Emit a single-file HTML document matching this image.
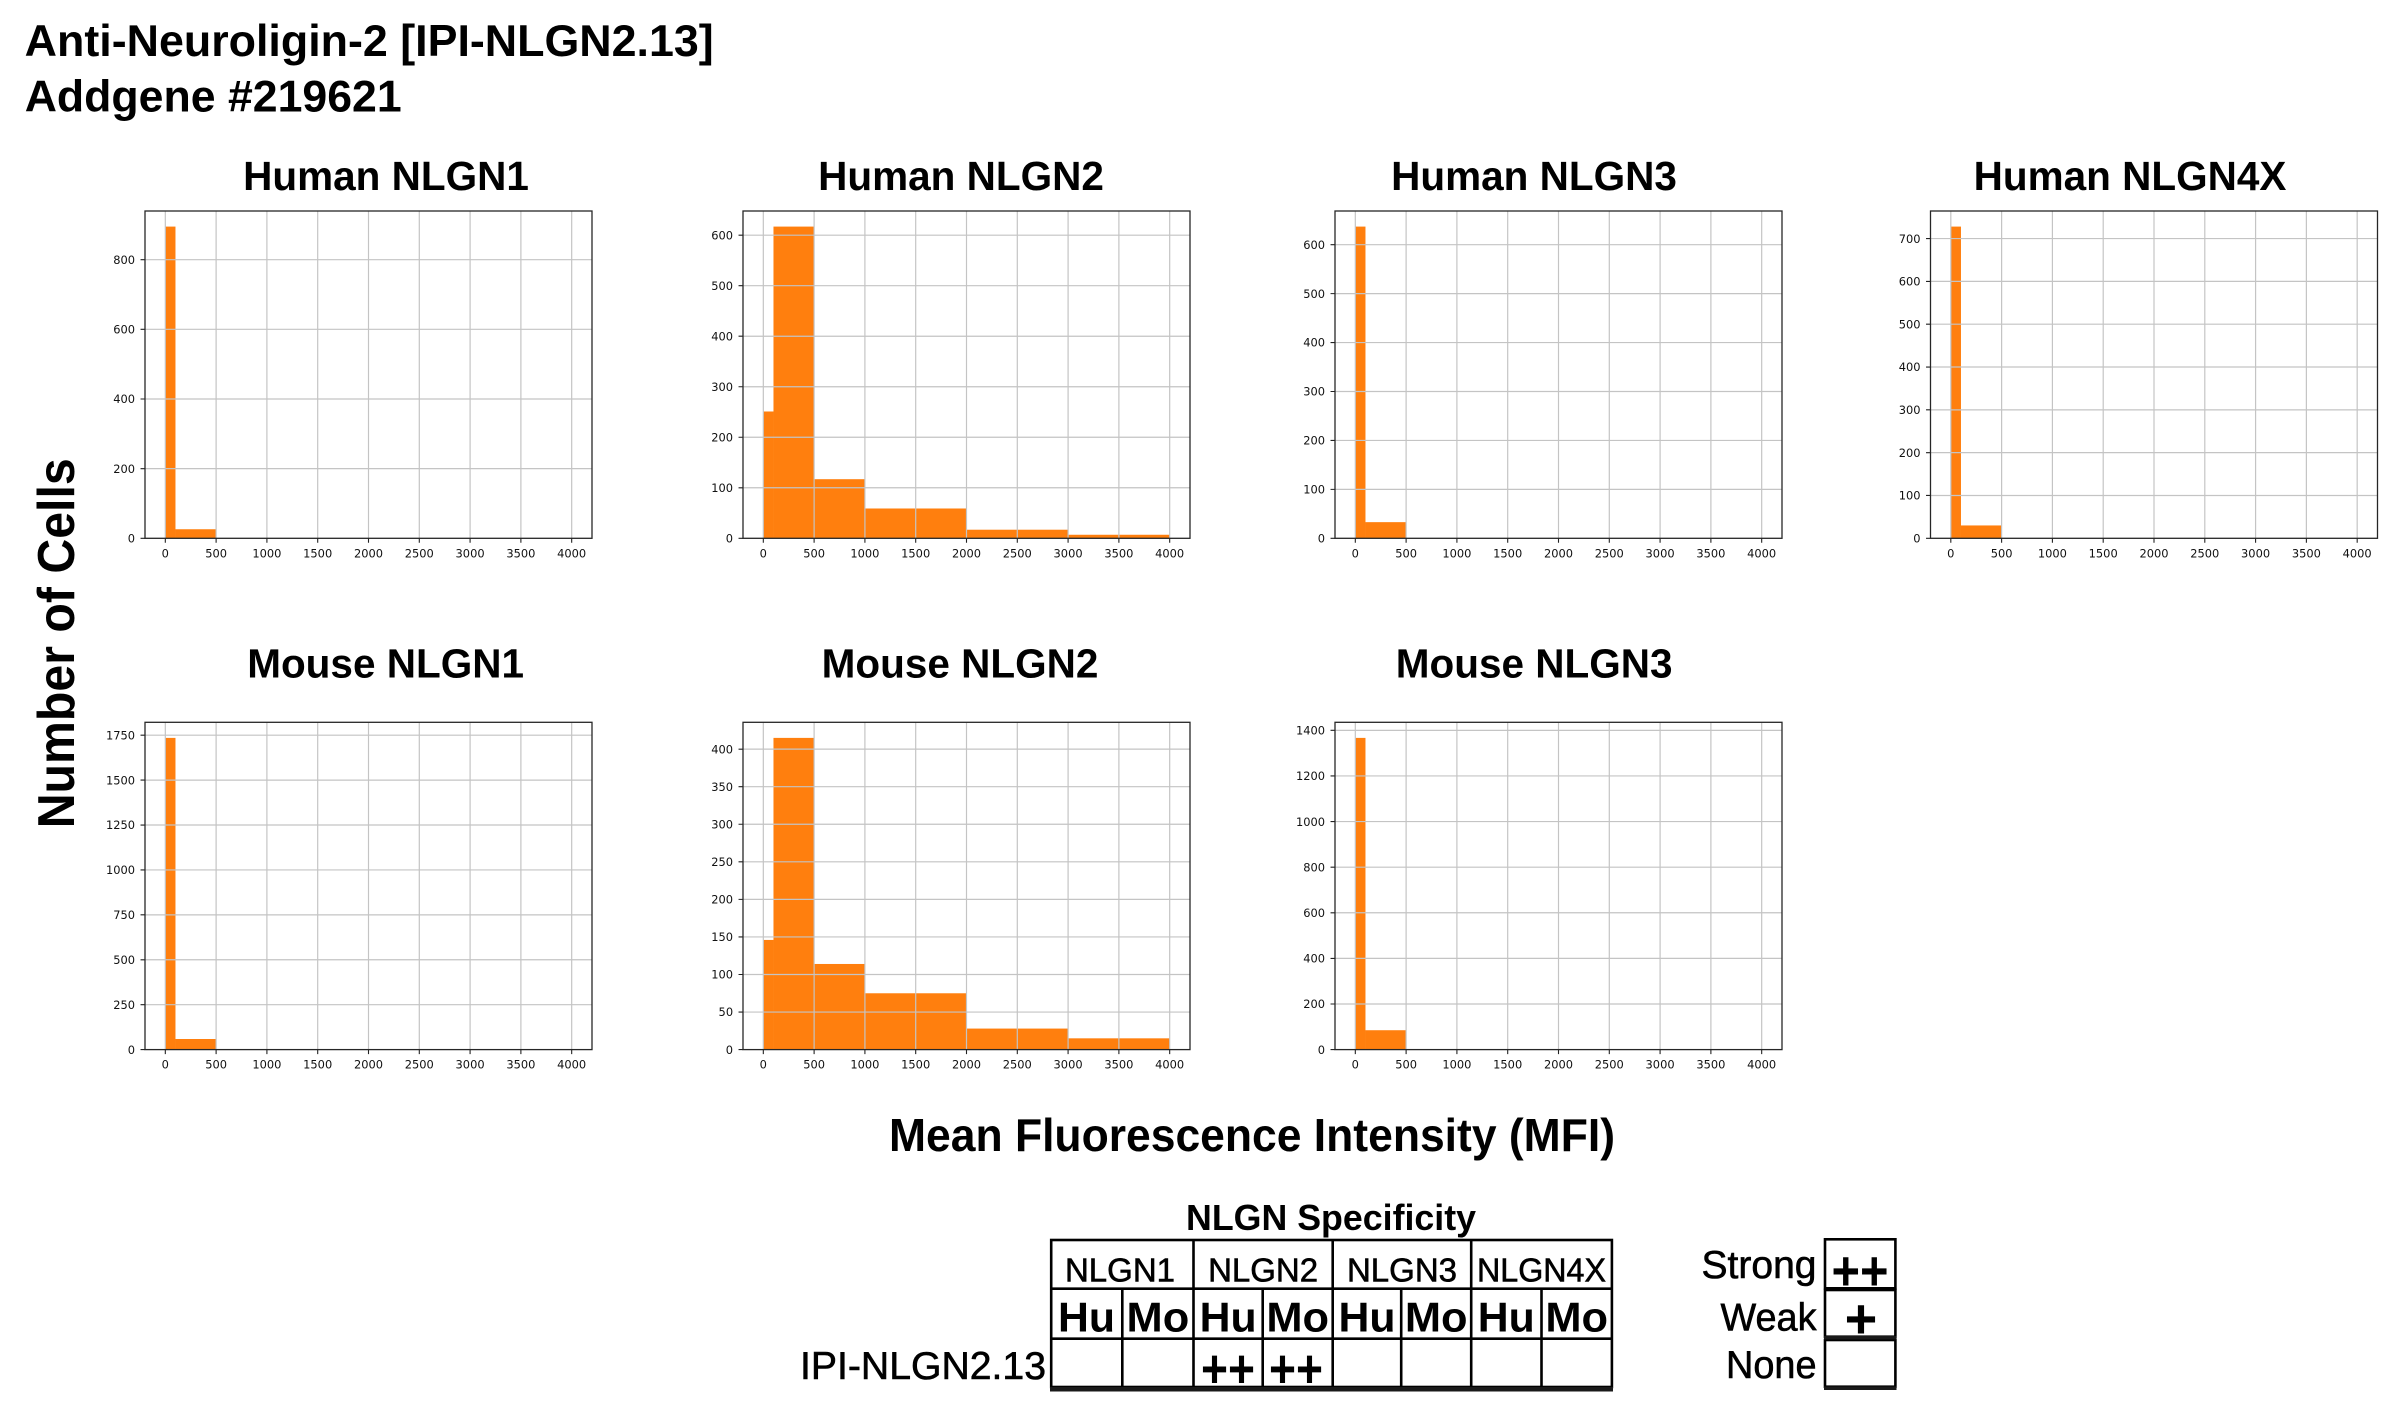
<!DOCTYPE html>
<html>
<head>
<meta charset="utf-8">
<style>
html,body{margin:0;padding:0;background:#fff;}
svg{display:block;}
.t{font-family:"DejaVu Sans","Liberation Sans",sans-serif;font-size:11.5px;fill:#111;}
.ty{text-anchor:end;}
.tx{text-anchor:middle;}
.g{stroke:#c4c4c4;stroke-width:1.2;fill:none;}
.k{stroke:#222;stroke-width:1.1;fill:none;}
.sp{stroke:#262626;stroke-width:1.3;fill:none;}
.bar{fill:#ff7f0e;}
.ttl{font-family:"Liberation Sans",Arial,sans-serif;font-weight:bold;font-size:40.5px;fill:#000;text-anchor:middle;}
.hd{font-family:"Liberation Sans",Arial,sans-serif;fill:#000;}
.md{stroke:#000;stroke-width:0.6;}
.tb{stroke:#000;stroke-width:2.6;fill:none;}
</style>
</head>
<body>
<svg width="2407" height="1418" viewBox="0 0 2407 1418" xmlns="http://www.w3.org/2000/svg">
<rect x="0" y="0" width="2407" height="1418" fill="#fff"/>

<!-- Main title -->
<text class="hd" x="24.7" y="55.8" font-size="44.7" font-weight="bold" textLength="689" lengthAdjust="spacingAndGlyphs">Anti-Neuroligin-2 [IPI-NLGN2.13]</text>
<text class="hd" x="24.7" y="111.5" font-size="44.7" font-weight="bold" textLength="377" lengthAdjust="spacingAndGlyphs">Addgene #219621</text>

<!-- Y label -->
<text class="hd" transform="translate(74,643.3) rotate(-90)" text-anchor="middle" font-size="52" font-weight="bold" textLength="370" lengthAdjust="spacingAndGlyphs">Number of Cells</text>

<!-- X label -->
<text class="hd" x="1252" y="1151" text-anchor="middle" font-size="46" font-weight="bold" textLength="726" lengthAdjust="spacingAndGlyphs">Mean Fluorescence Intensity (MFI)</text>

<!-- Subplot titles -->
<text class="ttl" x="386" y="190">Human NLGN1</text>
<text class="ttl" x="961" y="190">Human NLGN2</text>
<text class="ttl" x="1534" y="190">Human NLGN3</text>
<text class="ttl" x="2130" y="190">Human NLGN4X</text>
<text class="ttl" x="385.6" y="677.3">Mouse NLGN1</text>
<text class="ttl" x="960" y="677.3">Mouse NLGN2</text>
<text class="ttl" x="1534.2" y="677.3">Mouse NLGN3</text>

<!-- ========== Chart 1: Human NLGN1 ========== -->
<g transform="translate(145,211) scale(0.99333,1)">
<rect class="bar" x="20.45" y="15.59" width="10.23" height="311.71"/>
<rect class="bar" x="30.68" y="318.24" width="40.91" height="9.06"/>
<path class="g" d="M20.45 0V327.3M71.59 0V327.3M122.73 0V327.3M173.86 0V327.3M225 0V327.3M276.14 0V327.3M327.27 0V327.3M378.41 0V327.3M429.55 0V327.3"/>
<path class="g" d="M0 257.64H450M0 187.99H450M0 118.33H450M0 48.68H450"/>
<path class="k" d="M20.45 327.3v4.5M71.59 327.3v4.5M122.73 327.3v4.5M173.86 327.3v4.5M225 327.3v4.5M276.14 327.3v4.5M327.27 327.3v4.5M378.41 327.3v4.5M429.55 327.3v4.5"/>
<path class="k" d="M0 327.3h-4.5M0 257.64h-4.5M0 187.99h-4.5M0 118.33h-4.5M0 48.68h-4.5"/>
<rect class="sp" x="0" y="0" width="450" height="327.3"/>
<g class="t ty">
<text x="-10" y="331.5">0</text><text x="-10" y="261.84">200</text><text x="-10" y="192.19">400</text><text x="-10" y="122.53">600</text><text x="-10" y="52.88">800</text>
</g>
<g class="t tx">
<text x="20.45" y="346.3">0</text><text x="71.59" y="346.3">500</text><text x="122.73" y="346.3">1000</text><text x="173.86" y="346.3">1500</text><text x="225" y="346.3">2000</text><text x="276.14" y="346.3">2500</text><text x="327.27" y="346.3">3000</text><text x="378.41" y="346.3">3500</text><text x="429.55" y="346.3">4000</text>
</g>
</g>

<!-- ========== Chart 2: Human NLGN2 ========== -->
<g transform="translate(743,211) scale(0.99333,1)">
<rect class="bar" x="20.45" y="200.49" width="10.23" height="126.81"/>
<rect class="bar" x="30.68" y="15.59" width="40.91" height="311.71"/>
<rect class="bar" x="71.59" y="268.19" width="51.14" height="59.11"/>
<rect class="bar" x="122.73" y="297.49" width="102.27" height="29.81"/>
<rect class="bar" x="225" y="318.71" width="102.27" height="8.59"/>
<rect class="bar" x="327.27" y="323.76" width="102.28" height="3.54"/>
<path class="g" d="M20.45 0V327.3M71.59 0V327.3M122.73 0V327.3M173.86 0V327.3M225 0V327.3M276.14 0V327.3M327.27 0V327.3M378.41 0V327.3M429.55 0V327.3"/>
<path class="g" d="M0 276.78H450M0 226.26H450M0 175.74H450M0 125.22H450M0 74.70H450M0 24.17H450"/>
<path class="k" d="M20.45 327.3v4.5M71.59 327.3v4.5M122.73 327.3v4.5M173.86 327.3v4.5M225 327.3v4.5M276.14 327.3v4.5M327.27 327.3v4.5M378.41 327.3v4.5M429.55 327.3v4.5"/>
<path class="k" d="M0 327.3h-4.5M0 276.78h-4.5M0 226.26h-4.5M0 175.74h-4.5M0 125.22h-4.5M0 74.70h-4.5M0 24.17h-4.5"/>
<rect class="sp" x="0" y="0" width="450" height="327.3"/>
<g class="t ty">
<text x="-10" y="331.5">0</text><text x="-10" y="280.98">100</text><text x="-10" y="230.46">200</text><text x="-10" y="179.94">300</text><text x="-10" y="129.42">400</text><text x="-10" y="78.9">500</text><text x="-10" y="28.37">600</text>
</g>
<g class="t tx">
<text x="20.45" y="346.3">0</text><text x="71.59" y="346.3">500</text><text x="122.73" y="346.3">1000</text><text x="173.86" y="346.3">1500</text><text x="225" y="346.3">2000</text><text x="276.14" y="346.3">2500</text><text x="327.27" y="346.3">3000</text><text x="378.41" y="346.3">3500</text><text x="429.55" y="346.3">4000</text>
</g>
</g>

<!-- ========== Chart 3: Human NLGN3 ========== -->
<g transform="translate(1335,211) scale(0.99333,1)">
<rect class="bar" x="20.45" y="15.59" width="10.23" height="311.71"/>
<rect class="bar" x="30.68" y="311.15" width="40.91" height="16.15"/>
<path class="g" d="M20.45 0V327.3M71.59 0V327.3M122.73 0V327.3M173.86 0V327.3M225 0V327.3M276.14 0V327.3M327.27 0V327.3M378.41 0V327.3M429.55 0V327.3"/>
<path class="g" d="M0 278.37H450M0 229.43H450M0 180.5H450M0 131.56H450M0 82.63H450M0 33.69H450"/>
<path class="k" d="M20.45 327.3v4.5M71.59 327.3v4.5M122.73 327.3v4.5M173.86 327.3v4.5M225 327.3v4.5M276.14 327.3v4.5M327.27 327.3v4.5M378.41 327.3v4.5M429.55 327.3v4.5"/>
<path class="k" d="M0 327.3h-4.5M0 278.37h-4.5M0 229.43h-4.5M0 180.5h-4.5M0 131.56h-4.5M0 82.63h-4.5M0 33.69h-4.5"/>
<rect class="sp" x="0" y="0" width="450" height="327.3"/>
<g class="t ty">
<text x="-10" y="331.5">0</text><text x="-10" y="282.57">100</text><text x="-10" y="233.63">200</text><text x="-10" y="184.7">300</text><text x="-10" y="135.76">400</text><text x="-10" y="86.83">500</text><text x="-10" y="37.89">600</text>
</g>
<g class="t tx">
<text x="20.45" y="346.3">0</text><text x="71.59" y="346.3">500</text><text x="122.73" y="346.3">1000</text><text x="173.86" y="346.3">1500</text><text x="225" y="346.3">2000</text><text x="276.14" y="346.3">2500</text><text x="327.27" y="346.3">3000</text><text x="378.41" y="346.3">3500</text><text x="429.55" y="346.3">4000</text>
</g>
</g>

<!-- ========== Chart 4: Human NLGN4X ========== -->
<g transform="translate(1930.5,211) scale(0.99333,1)">
<rect class="bar" x="20.45" y="15.59" width="10.23" height="311.71"/>
<rect class="bar" x="30.68" y="314.45" width="40.91" height="12.85"/>
<path class="g" d="M20.45 0V327.3M71.59 0V327.3M122.73 0V327.3M173.86 0V327.3M225 0V327.3M276.14 0V327.3M327.27 0V327.3M378.41 0V327.3M429.55 0V327.3"/>
<path class="g" d="M0 284.48H450M0 241.66H450M0 198.85H450M0 156.03H450M0 113.21H450M0 70.39H450M0 27.57H450"/>
<path class="k" d="M20.45 327.3v4.5M71.59 327.3v4.5M122.73 327.3v4.5M173.86 327.3v4.5M225 327.3v4.5M276.14 327.3v4.5M327.27 327.3v4.5M378.41 327.3v4.5M429.55 327.3v4.5"/>
<path class="k" d="M0 327.3h-4.5M0 284.48h-4.5M0 241.66h-4.5M0 198.85h-4.5M0 156.03h-4.5M0 113.21h-4.5M0 70.39h-4.5M0 27.57h-4.5"/>
<rect class="sp" x="0" y="0" width="450" height="327.3"/>
<g class="t ty">
<text x="-10" y="331.5">0</text><text x="-10" y="288.68">100</text><text x="-10" y="245.86">200</text><text x="-10" y="203.05">300</text><text x="-10" y="160.23">400</text><text x="-10" y="117.41">500</text><text x="-10" y="74.59">600</text><text x="-10" y="31.77">700</text>
</g>
<g class="t tx">
<text x="20.45" y="346.3">0</text><text x="71.59" y="346.3">500</text><text x="122.73" y="346.3">1000</text><text x="173.86" y="346.3">1500</text><text x="225" y="346.3">2000</text><text x="276.14" y="346.3">2500</text><text x="327.27" y="346.3">3000</text><text x="378.41" y="346.3">3500</text><text x="429.55" y="346.3">4000</text>
</g>
</g>

<!-- ========== Chart 5: Mouse NLGN1 ========== -->
<g transform="translate(145,722.3) scale(0.99333,1)">
<rect class="bar" x="20.45" y="15.59" width="10.23" height="311.71"/>
<rect class="bar" x="30.68" y="316.7" width="40.91" height="10.6"/>
<path class="g" d="M20.45 0V327.3M71.59 0V327.3M122.73 0V327.3M173.86 0V327.3M225 0V327.3M276.14 0V327.3M327.27 0V327.3M378.41 0V327.3M429.55 0V327.3"/>
<path class="g" d="M0 282.39H450M0 237.47H450M0 192.56H450M0 147.64H450M0 102.73H450M0 57.81H450M0 12.9H450"/>
<path class="k" d="M20.45 327.3v4.5M71.59 327.3v4.5M122.73 327.3v4.5M173.86 327.3v4.5M225 327.3v4.5M276.14 327.3v4.5M327.27 327.3v4.5M378.41 327.3v4.5M429.55 327.3v4.5"/>
<path class="k" d="M0 327.3h-4.5M0 282.39h-4.5M0 237.47h-4.5M0 192.56h-4.5M0 147.64h-4.5M0 102.73h-4.5M0 57.81h-4.5M0 12.9h-4.5"/>
<rect class="sp" x="0" y="0" width="450" height="327.3"/>
<g class="t ty">
<text x="-10" y="331.5">0</text><text x="-10" y="286.59">250</text><text x="-10" y="241.67">500</text><text x="-10" y="196.76">750</text><text x="-10" y="151.84">1000</text><text x="-10" y="106.93">1250</text><text x="-10" y="62.01">1500</text><text x="-10" y="17.1">1750</text>
</g>
<g class="t tx">
<text x="20.45" y="346.3">0</text><text x="71.59" y="346.3">500</text><text x="122.73" y="346.3">1000</text><text x="173.86" y="346.3">1500</text><text x="225" y="346.3">2000</text><text x="276.14" y="346.3">2500</text><text x="327.27" y="346.3">3000</text><text x="378.41" y="346.3">3500</text><text x="429.55" y="346.3">4000</text>
</g>
</g>

<!-- ========== Chart 6: Mouse NLGN2 ========== -->
<g transform="translate(743,722.3) scale(0.99333,1)">
<rect class="bar" x="20.45" y="217.64" width="10.23" height="109.66"/>
<rect class="bar" x="30.68" y="15.59" width="40.91" height="311.71"/>
<rect class="bar" x="71.59" y="241.67" width="51.14" height="85.63"/>
<rect class="bar" x="122.73" y="270.97" width="102.27" height="56.33"/>
<rect class="bar" x="225" y="306.27" width="102.27" height="21.03"/>
<rect class="bar" x="327.27" y="316.03" width="102.28" height="11.27"/>
<path class="g" d="M20.45 0V327.3M71.59 0V327.3M122.73 0V327.3M173.86 0V327.3M225 0V327.3M276.14 0V327.3M327.27 0V327.3M378.41 0V327.3M429.55 0V327.3"/>
<path class="g" d="M0 289.74H450M0 252.19H450M0 214.63H450M0 177.07H450M0 139.52H450M0 101.96H450M0 64.4H450M0 26.85H450"/>
<path class="k" d="M20.45 327.3v4.5M71.59 327.3v4.5M122.73 327.3v4.5M173.86 327.3v4.5M225 327.3v4.5M276.14 327.3v4.5M327.27 327.3v4.5M378.41 327.3v4.5M429.55 327.3v4.5"/>
<path class="k" d="M0 327.3h-4.5M0 289.74h-4.5M0 252.19h-4.5M0 214.63h-4.5M0 177.07h-4.5M0 139.52h-4.5M0 101.96h-4.5M0 64.4h-4.5M0 26.85h-4.5"/>
<rect class="sp" x="0" y="0" width="450" height="327.3"/>
<g class="t ty">
<text x="-10" y="331.5">0</text><text x="-10" y="293.94">50</text><text x="-10" y="256.39">100</text><text x="-10" y="218.83">150</text><text x="-10" y="181.27">200</text><text x="-10" y="143.72">250</text><text x="-10" y="106.16">300</text><text x="-10" y="68.6">350</text><text x="-10" y="31.05">400</text>
</g>
<g class="t tx">
<text x="20.45" y="346.3">0</text><text x="71.59" y="346.3">500</text><text x="122.73" y="346.3">1000</text><text x="173.86" y="346.3">1500</text><text x="225" y="346.3">2000</text><text x="276.14" y="346.3">2500</text><text x="327.27" y="346.3">3000</text><text x="378.41" y="346.3">3500</text><text x="429.55" y="346.3">4000</text>
</g>
</g>

<!-- ========== Chart 7: Mouse NLGN3 ========== -->
<g transform="translate(1335,722.3) scale(0.99333,1)">
<rect class="bar" x="20.45" y="15.59" width="10.23" height="311.71"/>
<rect class="bar" x="30.68" y="307.92" width="40.91" height="19.38"/>
<path class="g" d="M20.45 0V327.3M71.59 0V327.3M122.73 0V327.3M173.86 0V327.3M225 0V327.3M276.14 0V327.3M327.27 0V327.3M378.41 0V327.3M429.55 0V327.3"/>
<path class="g" d="M0 281.69H450M0 236.09H450M0 190.48H450M0 144.87H450M0 99.27H450M0 53.66H450M0 8.06H450"/>
<path class="k" d="M20.45 327.3v4.5M71.59 327.3v4.5M122.73 327.3v4.5M173.86 327.3v4.5M225 327.3v4.5M276.14 327.3v4.5M327.27 327.3v4.5M378.41 327.3v4.5M429.55 327.3v4.5"/>
<path class="k" d="M0 327.3h-4.5M0 281.69h-4.5M0 236.09h-4.5M0 190.48h-4.5M0 144.87h-4.5M0 99.27h-4.5M0 53.66h-4.5M0 8.06h-4.5"/>
<rect class="sp" x="0" y="0" width="450" height="327.3"/>
<g class="t ty">
<text x="-10" y="331.5">0</text><text x="-10" y="285.89">200</text><text x="-10" y="240.29">400</text><text x="-10" y="194.68">600</text><text x="-10" y="149.07">800</text><text x="-10" y="103.47">1000</text><text x="-10" y="57.86">1200</text><text x="-10" y="12.26">1400</text>
</g>
<g class="t tx">
<text x="20.45" y="346.3">0</text><text x="71.59" y="346.3">500</text><text x="122.73" y="346.3">1000</text><text x="173.86" y="346.3">1500</text><text x="225" y="346.3">2000</text><text x="276.14" y="346.3">2500</text><text x="327.27" y="346.3">3000</text><text x="378.41" y="346.3">3500</text><text x="429.55" y="346.3">4000</text>
</g>
</g>

<!-- ========== Specificity table ========== -->
<text class="hd" x="1331" y="1230" text-anchor="middle" font-size="35.7" font-weight="bold" textLength="290" lengthAdjust="spacingAndGlyphs">NLGN Specificity</text>

<rect class="tb" x="1051.2" y="1240" width="560.7" height="147"/>
<path class="tb" d="M1051.2 1288.7H1611.9M1051.2 1338.7H1611.9"/>
<path class="tb" d="M1193.5 1240V1387M1332.7 1240V1387M1471.2 1240V1387"/>
<path class="tb" d="M1122.3 1288.7V1387M1262.7 1288.7V1387M1401.2 1288.7V1387M1541.5 1288.7V1387"/>
<path d="M1050 1389.3H1613" stroke="#1a1a1a" stroke-width="4.5" fill="none"/>

<g class="hd md" font-size="33" text-anchor="middle">
<text x="1120" y="1281.5">NLGN1</text>
<text x="1263.1" y="1281.5">NLGN2</text>
<text x="1402" y="1281.5">NLGN3</text>
<text x="1541.5" y="1281.5" textLength="129" lengthAdjust="spacingAndGlyphs">NLGN4X</text>
</g>
<g class="hd" font-size="42" font-weight="bold" text-anchor="middle">
<text x="1086.5" y="1331.5" textLength="57" lengthAdjust="spacingAndGlyphs">Hu</text>
<text x="1157.9" y="1331.5" textLength="62.7" lengthAdjust="spacingAndGlyphs">Mo</text>
<text x="1228.1" y="1331.5" textLength="57" lengthAdjust="spacingAndGlyphs">Hu</text>
<text x="1297.7" y="1331.5" textLength="62.7" lengthAdjust="spacingAndGlyphs">Mo</text>
<text x="1367" y="1331.5" textLength="57" lengthAdjust="spacingAndGlyphs">Hu</text>
<text x="1436.2" y="1331.5" textLength="62.7" lengthAdjust="spacingAndGlyphs">Mo</text>
<text x="1506.3" y="1331.5" textLength="57" lengthAdjust="spacingAndGlyphs">Hu</text>
<text x="1576.7" y="1331.5" textLength="62.7" lengthAdjust="spacingAndGlyphs">Mo</text>
</g>
<g class="hd" font-size="54" font-weight="bold" text-anchor="middle">
<text x="1228" y="1387" textLength="54" lengthAdjust="spacingAndGlyphs">++</text>
<text x="1296" y="1387" textLength="54" lengthAdjust="spacingAndGlyphs">++</text>
</g>
<text class="hd md" x="800" y="1379" font-size="39" textLength="246" lengthAdjust="spacingAndGlyphs">IPI-NLGN2.13</text>

<!-- Legend -->
<rect class="tb" x="1825" y="1239.3" width="70.4" height="49"/>
<rect class="tb" x="1825" y="1290" width="70.4" height="46.7"/>
<rect class="tb" x="1825" y="1340" width="70.4" height="46.7"/>
<path d="M1824 1337.8H1896.5M1824 1388.3H1896.5" stroke="#1a1a1a" stroke-width="3.5" fill="none"/>
<g class="hd md" font-size="38.5" text-anchor="end">
<text x="1816.5" y="1278" textLength="115" lengthAdjust="spacingAndGlyphs">Strong</text>
<text x="1816.5" y="1330.5" textLength="96" lengthAdjust="spacingAndGlyphs">Weak</text>
<text x="1816.5" y="1378" textLength="90.5" lengthAdjust="spacingAndGlyphs">None</text>
</g>
<g class="hd" font-size="56" font-weight="bold" text-anchor="middle">
<text x="1860" y="1290" textLength="57" lengthAdjust="spacingAndGlyphs">++</text>
<text x="1861" y="1338">+</text>
</g>
</svg>
</body>
</html>
